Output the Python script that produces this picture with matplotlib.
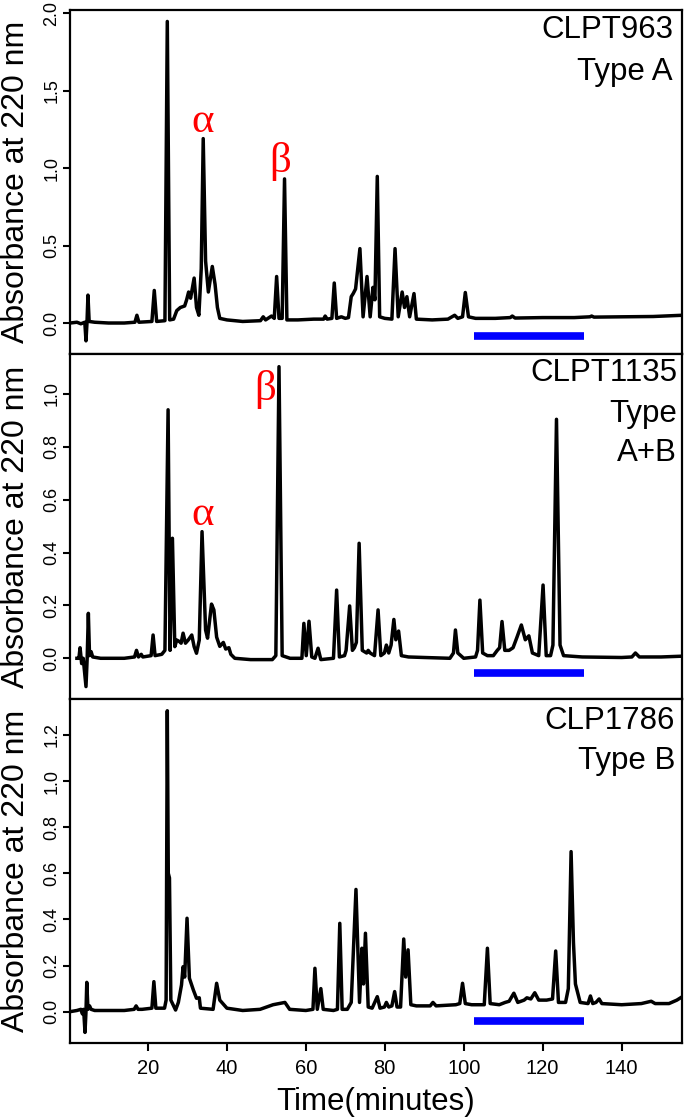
import matplotlib
matplotlib.use("Agg")
import matplotlib.pyplot as plt

plt.rcParams['font.family'] = ['Liberation Sans', 'DejaVu Sans']

# ---------------- data ----------------
p1_time = [0.3, 2.0, 3.0, 4.0, 4.3, 4.55, 4.8, 5.1, 6.5, 10.0, 14.0, 16.7, 17.2, 17.7,
           21.0, 21.6, 22.2, 24.3, 24.9, 25.5, 26.5, 27.3, 28.2, 29.3, 29.8, 30.3, 30.8,
           31.7, 32.3, 32.9, 33.5, 34.0, 34.6, 35.3, 36.3, 37.0, 37.6, 38.2, 40.0, 44.0,
           48.5, 49.2, 49.8, 51.3, 52.0, 52.6, 53.2, 54.0, 54.6, 55.2, 58.0, 62.0, 64.5,
           64.9, 65.4, 66.6, 67.2, 67.8, 69.0, 70.0, 70.8, 71.5, 72.0, 72.6, 73.7, 74.5,
           75.5, 76.3, 77.0, 77.5, 78.1, 78.7, 80.0, 81.8, 82.6, 83.4, 84.4, 85.0, 85.6,
           86.3, 87.4, 88.0, 92.0, 96.0, 97.7, 98.5, 99.7, 100.4, 101.2, 103.0, 108.0,
           111.8, 112.3, 113.0, 120.0, 128.0, 132.0, 132.4, 133.0, 140.0, 148.0, 155.4]
p1_abs = [0.0, 0.005, -0.005, 0.005, -0.115, 0.0, 0.18, 0.01, 0.005, 0.0, 0.0, 0.005, 0.05, 0.005,
          0.01, 0.21, 0.01, 0.015, 1.946, 0.02, 0.025, 0.08, 0.1, 0.11, 0.15, 0.2, 0.16,
          0.29, 0.1, 0.05, 0.35, 1.19, 0.4, 0.2, 0.365, 0.25, 0.1, 0.03, 0.02, 0.01,
          0.015, 0.04, 0.02, 0.045, 0.03, 0.30, 0.03, 0.03, 0.93, 0.02, 0.02, 0.025, 0.025,
          0.045, 0.025, 0.03, 0.258, 0.03, 0.04, 0.03, 0.035, 0.17, 0.19, 0.22, 0.48, 0.04,
          0.30, 0.04, 0.23, 0.15, 0.946, 0.04, 0.03, 0.025, 0.48, 0.04, 0.2, 0.1, 0.17,
          0.04, 0.19, 0.025, 0.02, 0.025, 0.05, 0.03, 0.04, 0.197, 0.04, 0.03, 0.03,
          0.035, 0.045, 0.032, 0.035, 0.035, 0.04, 0.045, 0.038, 0.04, 0.042, 0.05]

p2_time = [2.0, 2.5, 2.8, 3.2, 3.6, 4.3, 4.6, 4.9, 5.2, 5.6, 6.0, 8.0, 14.0, 16.6, 17.1,
           17.6, 18.3, 18.7, 20.8, 21.3, 21.8, 23.5, 24.3, 25.1, 25.6, 26.2, 26.8, 27.3,
           28.0, 28.4, 28.9, 29.5, 30.2, 31.1, 31.7, 32.3, 33.0, 33.7, 34.6, 35.1, 36.1,
           36.7, 37.4, 38.2, 39.1, 39.7, 40.5, 41.0, 42.0, 46.0, 51.5, 52.4, 53.2, 54.0,
           56.0, 59.0, 59.5, 60.1, 60.8, 61.5, 62.3, 63.1, 63.8, 67.0, 67.8, 68.5, 69.8,
           70.2, 71.1, 71.8, 72.3, 72.8, 73.5, 74.3, 75.4, 75.8, 76.3, 77.4, 78.3, 79.0,
           79.9, 80.4, 81.0, 81.6, 82.3, 82.8, 83.5, 84.2, 86.0, 90.0, 96.5, 97.4, 97.9,
           98.5, 100.0, 103.0, 103.5, 104.1, 104.8, 106.0, 107.5, 108.5, 109.1, 109.7,
           110.4, 111.5, 112.5, 113.5, 114.6, 115.6, 116.5, 117.4, 119.0, 120.1, 120.9,
           122.0, 122.6, 123.5, 124.4, 125.3, 130.0, 140.0, 142.6, 143.5, 144.5, 150.0, 155.4]
p2_abs = [0.0, 0.0, 0.04, -0.02, 0.0, -0.107, 0.0, 0.17, 0.01, 0.025, 0.005, 0.0, 0.0, 0.005, 0.03,
          0.005, 0.015, 0.005, 0.01, 0.088, 0.01, 0.015, 0.03, 0.94, 0.03, 0.454, 0.044, 0.069,
          0.063, 0.057, 0.095, 0.057, 0.069, 0.088, 0.044, 0.019, 0.069, 0.479, 0.107, 0.076, 0.205,
          0.183, 0.08, 0.045, 0.06, 0.035, 0.04, 0.015, 0.0, -0.005, -0.005, 0.01, 1.103, 0.01,
          0.0, 0.0, 0.132, 0.01, 0.14, 0.005, 0.0, 0.038, -0.005, 0.0, 0.258, 0.005, 0.01,
          0.03, 0.198, 0.03, 0.04, 0.06, 0.435, 0.03, 0.02, 0.03, 0.02, 0.01, 0.183, 0.01,
          0.02, 0.05, 0.02, 0.05, 0.147, 0.07, 0.103, 0.01, 0.005, 0.003, 0.0, 0.02, 0.107,
          0.02, 0.0, 0.005, 0.03, 0.22, 0.02, 0.01, 0.01, 0.03, 0.04, 0.139,
          0.03, 0.03, 0.04, 0.08, 0.126, 0.07, 0.085, 0.02, 0.01, 0.277, 0.01,
          0.01, 0.05, 0.904, 0.05, 0.01, 0.005, 0.003, 0.005, 0.02, 0.005, 0.005, 0.008]

p3_time = [0.3, 2.0, 3.0, 3.4, 3.7, 4.05, 4.3, 4.5, 4.8, 5.2, 5.6, 6.5, 10.0, 14.0, 16.5,
           17.0, 17.5, 18.5, 21.0, 21.5, 22.0, 24.2, 24.6, 24.9, 25.15, 25.45, 25.8, 27.0,
           27.7, 28.5, 28.9, 29.3, 29.9, 30.5, 31.5, 32.3, 33.0, 33.3, 36.5, 37.4, 38.2,
           40.0, 44.0, 48.4, 51.7, 54.7, 55.9, 60.0, 61.8, 62.3, 62.9, 63.8, 64.4, 67.0,
           68.0, 68.6, 69.2, 70.5, 71.5, 72.7, 73.6, 74.2, 74.6, 75.1, 75.8, 76.8, 78.1,
           78.8, 79.9, 80.4, 81.0, 81.8, 82.5, 83.1, 84.0, 84.8, 85.3, 85.9, 86.6, 88.0,
           91.5, 92.2, 93.0, 98.0, 99.0, 99.7, 100.4, 102.0, 105.2, 106.0, 106.7, 109.0,
           110.5, 111.5, 112.7, 113.7, 115.3, 116.0, 117.0, 118.0, 119.0, 121.0, 122.5,
           123.3, 124.0, 125.8, 126.5, 127.2, 127.8, 128.3, 129.5, 131.5, 132.1, 132.7,
           133.5, 134.3, 135.0, 140.0, 145.0, 147.5, 148.5, 152.0, 154.0, 155.4]
p3_abs = [0.0, 0.005, 0.01, -0.01, 0.01, -0.09, 0.0, 0.127, 0.01, 0.025, 0.01, 0.005, 0.005, 0.005, 0.01,
          0.025, 0.01, 0.01, 0.015, 0.13, 0.015, 0.015, 0.05, 1.305, 0.6, 0.58, 0.05, 0.007,
          0.04, 0.116, 0.195, 0.15, 0.405, 0.145, 0.094, 0.058, 0.06, 0.015, 0.01, 0.123, 0.05,
          0.015, 0.005, 0.01, 0.03, 0.04, 0.01, 0.005, 0.01, 0.188, 0.01, 0.10, 0.01, 0.005,
          0.01, 0.383, 0.01, 0.01, 0.04, 0.53, 0.04, 0.275, 0.12, 0.34, 0.02, 0.015, 0.065,
          0.015, 0.02, 0.04, 0.02, 0.025, 0.087, 0.02, 0.02, 0.315, 0.15, 0.268, 0.03, 0.025,
          0.025, 0.04, 0.025, 0.03, 0.035, 0.123, 0.035, 0.03, 0.03, 0.275, 0.035, 0.03,
          0.04, 0.045, 0.08, 0.04, 0.05, 0.06, 0.055, 0.082, 0.05, 0.05, 0.055,
          0.263, 0.04, 0.04, 0.1, 0.694, 0.3, 0.12, 0.04, 0.035, 0.068, 0.035,
          0.04, 0.055, 0.035, 0.03, 0.035, 0.045, 0.035, 0.035, 0.05, 0.065]

sample_names = ["CLPT963", "CLPT1135", "CLP1786"]
sample_types = [["Type A"], ["Type", "A+B"], ["Type B"]]
y_ticks = [[0.0, 0.5, 1.0, 1.5, 2.0],
           [0.0, 0.2, 0.4, 0.6, 0.8, 1.0],
           [0.0, 0.2, 0.4, 0.6, 0.8, 1.0, 1.2]]
x_ticks = [20, 40, 60, 80, 100, 120, 140]
bar_range = [102.6, 130.4]
# Greek peak labels: (panel, label, time, absorbance-baseline)
greek_labels = [(0, "α", 33.8, 1.234), (0, "β", 53.4, 0.976),
                (1, "α", 33.8, 0.504), (1, "β", 49.7, 0.977)]

# ---------------- layout ----------------
W, H = 685, 1118
fig = plt.figure(figsize=(W / 100, H / 100), dpi=100)

left_px, right_px = 70, 682
panel_px = [(10, 354), (354, 699), (699, 1043)]
ylims = [(-0.2, 2.02), (-0.154, 1.151), (-0.136, 1.356)]
bar_y = [-0.085, -0.054, -0.04]
traces = [(p1_time, p1_abs), (p2_time, p2_abs), (p3_time, p3_abs)]
xlim = (0.25, 155.3)

text_right_px = [673, 677, 675]
text_base_px = [[38, 80], [381, 421.5, 461], [729, 769]]

axes = []
for i, (top, bot) in enumerate(panel_px):
    ax = fig.add_axes([left_px / W, 1 - bot / H, (right_px - left_px) / W, (bot - top) / H])
    axes.append(ax)
    t, a = traces[i]
    ax.plot(t, a, color='black', lw=2.5, solid_joinstyle='round')
    ax.plot(bar_range, [bar_y[i], bar_y[i]], color='#0000ff', lw=5.5, solid_capstyle='butt')
    ax.set_xlim(*xlim)
    ax.set_ylim(*ylims[i])
    ax.set_yticks(y_ticks[i])
    ax.set_yticklabels([f"{v:.1f}" for v in y_ticks[i]], rotation=90, va='center')
    ax.tick_params(axis='y', length=5, width=1.5, labelsize=13, pad=2)
    for s in ax.spines.values():
        s.set_linewidth(1.6)
    if i < 2:
        ax.set_xticks([])
    else:
        ax.set_xticks(x_ticks)
        ax.tick_params(axis='x', length=5.5, width=1.5, labelsize=14.5, pad=6)

    # y label
    fig.text(16 / W, 1 - (top + bot) / 2 / H, "Absorbance at 220 nm", rotation=90,
             ha='center', va='center', fontsize=23)

    # panel annotation
    lines = [sample_names[i]] + sample_types[i]
    for ln, yb in zip(lines, text_base_px[i]):
        fig.text(text_right_px[i] / W, 1 - yb / H, ln, ha='right', va='baseline', fontsize=22.5)

for (pi, lab, tt, yy) in greek_labels:
    axes[pi].text(tt, yy, lab, color='red', fontsize=31, ha='center', va='baseline',
                  family=['Liberation Serif', 'DejaVu Serif'])

fig.text(376 / W, 1 - 1110 / H, "Time(minutes)", ha='center', va='baseline', fontsize=22.5)

fig.savefig("out.png", dpi=100)
